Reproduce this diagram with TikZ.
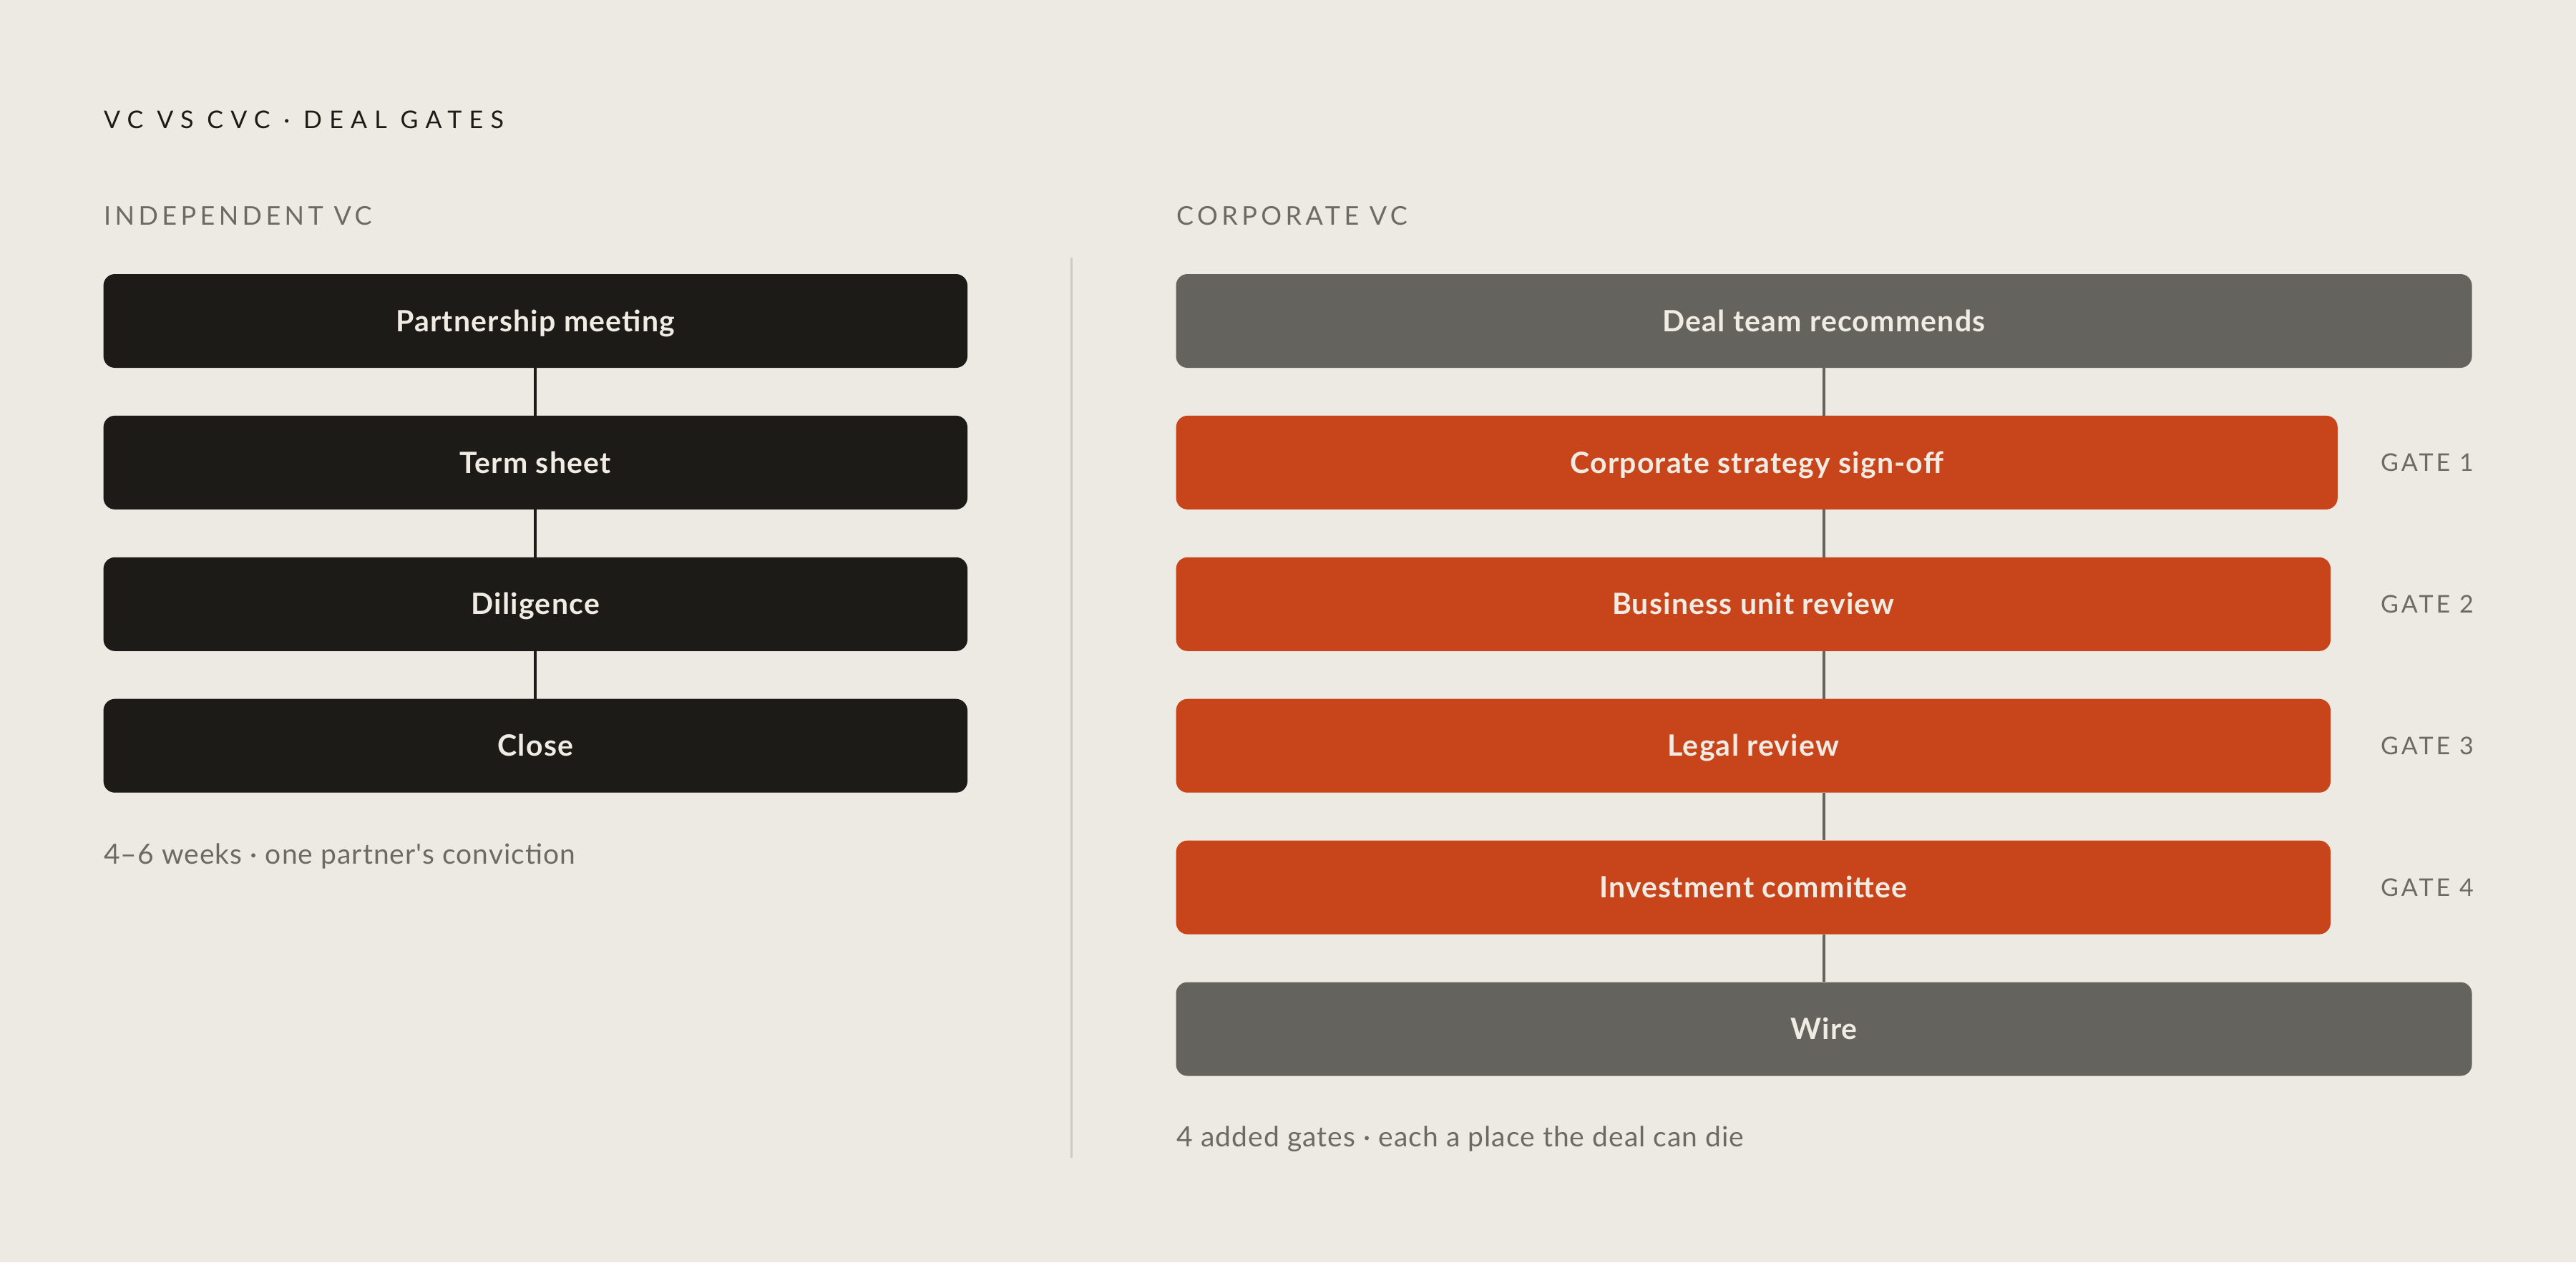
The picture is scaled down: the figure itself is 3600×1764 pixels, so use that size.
\documentclass[tikz,border=0pt]{standalone}
\usepackage{fontspec}
\setmainfont{Lato}
\newfontfamily\boxfont{Lato}[BoldFont={Lato Bold}, LetterSpace=3]
\newfontfamily\plainfont{Lato}[LetterSpace=2.7]
\newfontfamily\titlefont{Lato}[LetterSpace=30]
\newfontfamily\capsfont{Lato}[LetterSpace=15]
\newfontfamily\gatefont{Lato}[LetterSpace=12]
\definecolor{bg}{HTML}{EDEAE3}
\definecolor{ink}{HTML}{1C1B18}
\definecolor{slate}{HTML}{64635E}
\definecolor{rust}{HTML}{C8451C}
\definecolor{boxtext}{HTML}{F0ECE4}
\definecolor{muted}{HTML}{6B6A65}
\definecolor{rule}{HTML}{CFCBC3}
\tikzset{
  stepbox/.style={rounded corners=16pt, minimum height=131pt, inner sep=0pt,
    text=boxtext, font=\boxfont\bfseries\fontsize{41}{49}\selectfont,
    text height=29.3pt, text depth=0pt},
  lbox/.style={stepbox, fill=ink, minimum width=1207.4pt},
  gbox/.style={stepbox, fill=slate, minimum width=1811pt},
  rbox/.style={stepbox, fill=rust},
  lconn/.style={draw=ink, line width=4pt},
  rconn/.style={draw=slate, line width=4pt},
  divider/.style={draw=rule, line width=3pt},
  titletext/.style={anchor=base west, inner sep=0pt, text=ink, font=\titlefont\fontsize{34}{40}\selectfont},
  headtext/.style={anchor=base west, inner sep=0pt, text=muted, font=\capsfont\fontsize{36}{42}\selectfont},
  gatetext/.style={anchor=base east, inner sep=0pt, text=muted, font=\gatefont\fontsize{34}{40}\selectfont},
  captext/.style={anchor=base west, inner sep=0pt, text=muted, font=\plainfont\fontsize{39}{47}\selectfont}
}
\begin{document}
\begin{tikzpicture}[x=1pt,y=-1pt]
\fill[bg] (0,0) rectangle (3600,1764);
\useasboundingbox (0,0) rectangle (3600,1764);

% titles
\node[titletext] (title) at (145,179.3) {VC VS CVC · DEAL GATES};
\node[headtext] (hl) at (145,314) {INDEPENDENT VC};
\node[headtext] (hr) at (1644,314) {CORPORATE VC};

% divider
\coordinate (dtop) at (1497.5,360);
\coordinate (dbot) at (1497.5,1618);
\draw[divider] (dtop) -- (dbot);

% left column
\node[lbox] (l1) at (748.3,448.5) {Partnership meeting};
\node[lbox] (l2) at (748.3,646.4) {Term sheet};
\node[lbox] (l3) at (748.3,844.3) {Diligence};
\node[lbox] (l4) at (748.3,1042.2) {Close};
\draw[lconn] (l1) -- (l2);
\draw[lconn] (l2) -- (l3);
\draw[lconn] (l3) -- (l4);
\node[captext] (capl) at (145,1207) {4–6 weeks · one partner's conviction};

% right column
\node[gbox] (r0) at (2549,448.5) {Deal team recommends};
\node[rbox, minimum width=1623.1pt] (r1) at (2455.2,646.4) {Corporate strategy sign-off};
\node[rbox, minimum width=1613.4pt] (r2) at (2450.3,844.3) {Business unit review};
\node[rbox, minimum width=1613.4pt] (r3) at (2450.3,1042.2) {Legal review};
\node[rbox, minimum width=1613.4pt] (r4) at (2450.3,1240.1) {Investment committee};
\node[gbox] (r5) at (2549,1438) {Wire};
\draw[rconn] (r0.south) -- (r0.south |- r1.north);
\draw[rconn] (r0.south |- r1.south) -- (r0.south |- r2.north);
\draw[rconn] (r0.south |- r2.south) -- (r0.south |- r3.north);
\draw[rconn] (r0.south |- r3.south) -- (r0.south |- r4.north);
\draw[rconn] (r0.south |- r4.south) -- (r5.north);

\node[gatetext] (g1) at (3457,658.4) {GATE 1};
\node[gatetext] (g2) at (3457,856.3) {GATE 2};
\node[gatetext] (g3) at (3457,1054.2) {GATE 3};
\node[gatetext] (g4) at (3457,1252.1) {GATE 4};

\node[captext] (capr) at (1644.6,1602.3) {4 added gates · each a place the deal can die};
\end{tikzpicture}
\end{document}
